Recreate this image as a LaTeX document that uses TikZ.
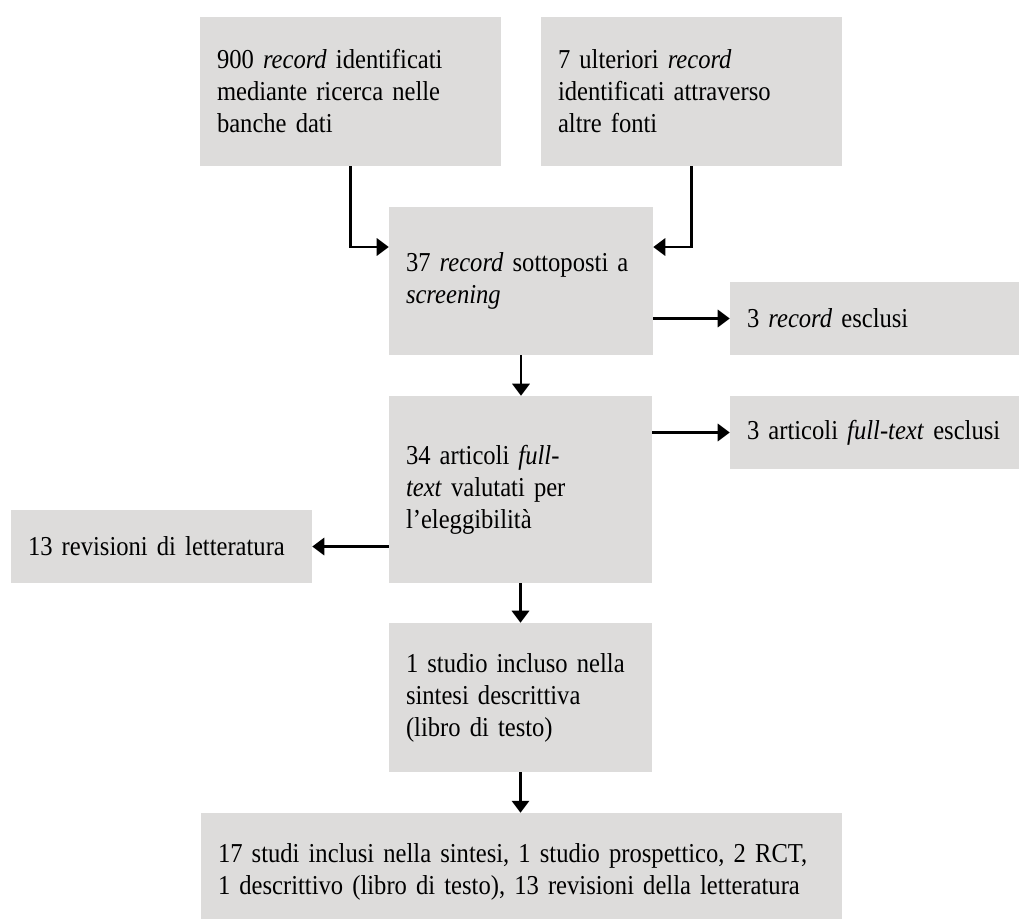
\documentclass[tikz,border=0pt]{standalone}
\usepackage{fontspec}
\setmainfont{Liberation Serif}[FakeStretch=0.9]
\usetikzlibrary{arrows.meta,calc}
\definecolor{boxgray}{RGB}{221,220,219}
\begin{document}
\begin{tikzpicture}[x=0.75pt,y=-0.75pt,
  box/.style={fill=boxgray, draw=none, inner xsep=12.75pt, inner ysep=0pt,
    align=left, font=\fontsize{20.5pt}{24pt}\selectfont, text=black},
  arr/.style={draw=black, line width=1.7pt, line join=miter,
    -{Triangle[length=9pt,width=13pt]}}
]
\useasboundingbox (0,0) rectangle (1019,918);

\node[box, text width=200.25pt, minimum height=111.75pt] (tl) at (350.5,91.5)
  {900 \textit{record} identificati\\mediante ricerca nelle\\banche dati};
\node[box, text width=200.25pt, minimum height=111.75pt] (tr) at (691.5,91.5)
  {7 ulteriori \textit{record}\\identificati attraverso\\altre fonti};
\node[box, text width=172.5pt, minimum height=111pt] (scr) at (521,281)
  {37 \textit{record} sottoposti a\\\textit{screening}};
\node[box, text width=214.5pt, minimum height=54.75pt] (rex) at (890,318.5)
  {3 \textit{record} esclusi};
\node[box, text width=171.75pt, minimum height=140.25pt] (ft) at (520.5,489.5)
  {34 articoli \textit{full-}\\\textit{text} valutati per\\l’eleggibilità};
\node[box, text width=214.5pt, minimum height=54.75pt] (fex) at (890,432.5)
  {3 articoli \textit{full-text} esclusi};
\node[box, text width=200.25pt, minimum height=54.75pt] (rev) at (161.5,546.5)
  {\mbox{13 revisioni di letteratura}};
\node[box, text width=171.75pt, minimum height=111.75pt] (stu) at (520.5,697.5)
  {1 studio incluso nella\\sintesi descrittiva\\(libro di testo)};
\node[box, text width=455.25pt, minimum height=88.5pt] (fin) at (521.5,872)
  {17 studi inclusi nella sintesi, 1 studio prospettico, 2 RCT,\\1 descrittivo (libro di testo), 13 revisioni della letteratura};

\draw[arr] (tl.south) |- ([yshift=25.5pt]scr.west);
\draw[arr] (tr.south) |- ([yshift=25.5pt]scr.east);
\draw[arr] (scr.east |- rex.west) -- (rex.west);
\draw[arr] (scr.south) -- (scr.south |- ft.north);
\draw[arr] (ft.east |- fex.west) -- (fex.west);
\draw[arr] (ft.west |- rev.east) -- (rev.east);
\draw[arr] (ft.south) -- (stu.north);
\draw[arr] (stu.south) -- (stu.south |- fin.north);
\end{tikzpicture}
\end{document}
